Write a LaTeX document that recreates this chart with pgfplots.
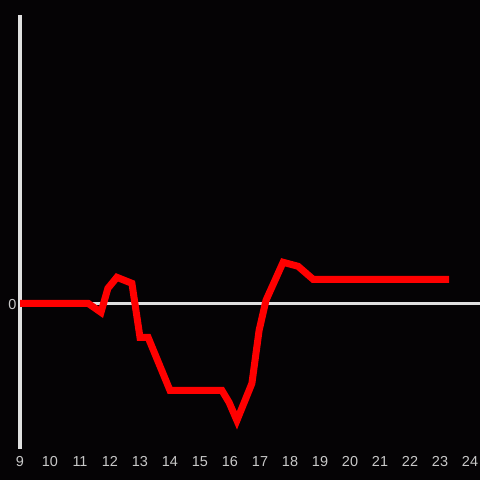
\documentclass[border=0pt]{standalone}
\usepackage{pgfplots}
\pgfplotsset{compat=1.18}
\usepackage{fontspec}
\setmainfont{Liberation Sans}
\definecolor{bg}{HTML}{050305}
\definecolor{ax}{HTML}{E0E0E0}
\definecolor{tx}{HTML}{C8C8C8}
\begin{document}
\begin{tikzpicture}
\fill[bg] (0,0) rectangle (480bp,480bp);
\begin{axis}[
  at={(20bp,31.5bp)}, anchor=south west,
  scale only axis, width=460bp, height=433.5bp,
  xmin=9, xmax=24.3333, ymin=-145, ymax=288,
  axis lines=left,
  axis line style={-},
  x axis line style={draw=none},
  y axis line style={draw=ax, line width=3bp},
  xtick={9,10,...,24}, ytick={0},
  major tick length=0pt,
  tick label style={font=\fontsize{14.5}{16}\selectfont, text=tx},
  /pgf/number format/assume math mode=true,
  xticklabel style={yshift=-4bp, text height=10.5bp, text depth=0pt},
  yticklabel style={yshift=-1bp},
  clip=false,
]
\draw[ax, line width=3bp] (axis cs:9,0) -- (axis cs:24.3333,0);
\addplot[red, line width=7bp, line join=miter, line cap=butt] coordinates {
(9.00,0) (11.27,0) (11.70,-9) (11.93,15) (12.23,26) (12.73,20)
(13.00,-34) (13.27,-34) (14.00,-87) (15.73,-87) (15.97,-99)
(16.23,-117) (16.73,-80) (16.97,-27) (17.20,3) (17.77,41)
(18.27,37) (18.77,24) (23.30,24)
};
\end{axis}
\pgfresetboundingbox
\path[use as bounding box] (0,0) rectangle (480bp,480bp);
\end{tikzpicture}
\end{document}
